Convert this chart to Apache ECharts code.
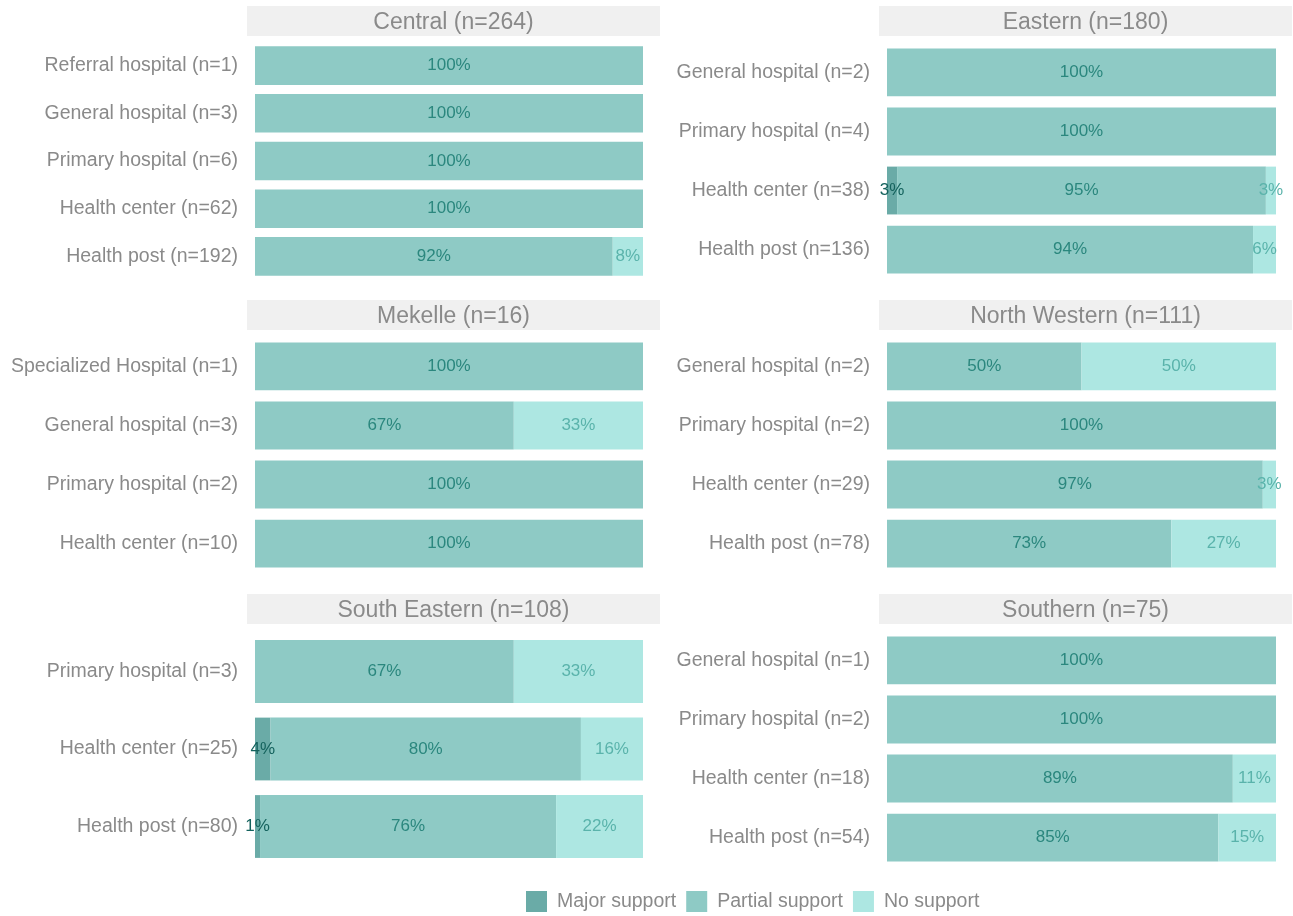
<!DOCTYPE html>
<html>
<head>
<meta charset="utf-8">
<script src="https://cdn.jsdelivr.net/npm/echarts@6/dist/echarts.min.js"></script>
<style>html,body{margin:0;padding:0;background:#fff;}#chart{width:1293px;height:916px;}</style>
</head>
<body>
<div id="chart"></div>
<script>
// ---- data ----
const seriesNames = ['Major support', 'Partial support', 'No support'];

const centralTitle = 'Central (n=264)';
const centralCats = ['Referral hospital (n=1)', 'General hospital (n=3)', 'Primary hospital (n=6)', 'Health center (n=62)', 'Health post (n=192)'];
const centralMajor = [0, 0, 0, 0, 0];
const centralPartial = [100, 100, 100, 100, 92.2];
const centralNone = [0, 0, 0, 0, 7.8];

const easternTitle = 'Eastern (n=180)';
const easternCats = ['General hospital (n=2)', 'Primary hospital (n=4)', 'Health center (n=38)', 'Health post (n=136)'];
const easternMajor = [0, 0, 2.6, 0];
const easternPartial = [100, 100, 94.8, 94.1];
const easternNone = [0, 0, 2.6, 5.9];

const mekelleTitle = 'Mekelle (n=16)';
const mekelleCats = ['Specialized Hospital (n=1)', 'General hospital (n=3)', 'Primary hospital (n=2)', 'Health center (n=10)'];
const mekelleMajor = [0, 0, 0, 0];
const mekellePartial = [100, 66.7, 100, 100];
const mekelleNone = [0, 33.3, 0, 0];

const nwTitle = 'North Western (n=111)';
const nwCats = ['General hospital (n=2)', 'Primary hospital (n=2)', 'Health center (n=29)', 'Health post (n=78)'];
const nwMajor = [0, 0, 0, 0];
const nwPartial = [50, 100, 96.6, 73.1];
const nwNone = [50, 0, 3.4, 26.9];

const seTitle = 'South Eastern (n=108)';
const seCats = ['Primary hospital (n=3)', 'Health center (n=25)', 'Health post (n=80)'];
const seMajor = [0, 4, 1.3];
const sePartial = [66.7, 80, 76.3];
const seNone = [33.3, 16, 22.4];

const southernTitle = 'Southern (n=75)';
const southernCats = ['General hospital (n=1)', 'Primary hospital (n=2)', 'Health center (n=18)', 'Health post (n=54)'];
const southernMajor = [0, 0, 0, 0];
const southernPartial = [100, 100, 88.9, 85.2];
const southernNone = [0, 0, 11.1, 14.8];

// ---- layout ----
const panels = [
  {title: centralTitle, cats: centralCats, vals: [centralMajor, centralPartial, centralNone], col: 0, row: 0},
  {title: easternTitle, cats: easternCats, vals: [easternMajor, easternPartial, easternNone], col: 1, row: 0},
  {title: mekelleTitle, cats: mekelleCats, vals: [mekelleMajor, mekellePartial, mekelleNone], col: 0, row: 1},
  {title: nwTitle, cats: nwCats, vals: [nwMajor, nwPartial, nwNone], col: 1, row: 1},
  {title: seTitle, cats: seCats, vals: [seMajor, sePartial, seNone], col: 0, row: 2},
  {title: southernTitle, cats: southernCats, vals: [southernMajor, southernPartial, southernNone], col: 1, row: 2}
];
const colStrip = [[247, 660], [879, 1292]];
const colBar = [[255, 643], [887, 1276]];
const rowStripTop = [6, 300, 594];
const stripH = 30;
const panelH = 248;

const fills = ['#6aaba7', '#8ecac5', '#ade7e2'];
const labelColors = ['#14625d', '#2b877e', '#5ab3ab'];
const FONT = 'Liberation Sans, Arial, sans-serif';

const grids = [], xAxes = [], yAxes = [], series = [], graphics = [];
panels.forEach((p, i) => {
  const n = p.cats.length;
  const pTop = rowStripTop[p.row] + stripH + 1;
  const unit = panelH / (n + 0.2);
  const top = pTop + 0.1 * unit;
  const h = n * unit;
  const [bl, br] = colBar[p.col];
  grids.push({left: bl, top: top, width: br - bl, height: h, containLabel: false});
  xAxes.push({type: 'value', gridIndex: i, min: 0, max: 100, show: false});
  yAxes.push({
    type: 'category', gridIndex: i, data: p.cats, inverse: true,
    axisLine: {show: false}, axisTick: {show: false}, splitLine: {show: false},
    axisLabel: {color: '#8a8a8a', fontSize: 19.5, fontFamily: FONT, margin: 17, padding: [4, 0, 0, 0]}
  });
  p.vals.forEach((arr, k) => {
    series.push({
      type: 'bar', name: seriesNames[k], xAxisIndex: i, yAxisIndex: i,
      stack: 'p' + i, barWidth: '81%', data: arr,
      itemStyle: {color: fills[k]},
      label: {
        show: true, position: 'inside', color: labelColors[k], fontSize: 17, fontFamily: FONT,
        offset: [0, 2],
        formatter: (d) => d.value > 0 ? Math.round(d.value) + '%' : ''
      },
      labelLayout: {hideOverlap: false},
      emphasis: {disabled: true}
    });
  });
  const [sl, sr] = colStrip[p.col];
  graphics.push({
    type: 'rect', shape: {x: sl, y: rowStripTop[p.row], width: sr - sl, height: stripH},
    style: {fill: '#f0f0f0'}, silent: true, z: -1
  });
  graphics.push({
    type: 'text', x: (sl + sr) / 2, y: rowStripTop[p.row] + stripH / 2 + 2,
    style: {text: p.title, fill: '#8a8a8a', font: '23px ' + FONT, textAlign: 'center', textVerticalAlign: 'middle'},
    silent: true
  });
});

const chart = echarts.init(document.getElementById('chart'), null, {renderer: 'canvas'});
chart.setOption({
  animation: false,
  backgroundColor: '#ffffff',
  grid: grids,
  xAxis: xAxes,
  yAxis: yAxes,
  series: series,
  graphic: graphics,
  legend: {
    data: seriesNames, left: 526, top: 891, padding: 0, itemWidth: 21, itemHeight: 21, itemGap: 10,
    icon: 'rect', selectedMode: false,
    textStyle: {color: '#8a8a8a', fontSize: 19.5, fontFamily: FONT, padding: [2, 0, 0, 5]}
  }
});
</script>
</body>
</html>
